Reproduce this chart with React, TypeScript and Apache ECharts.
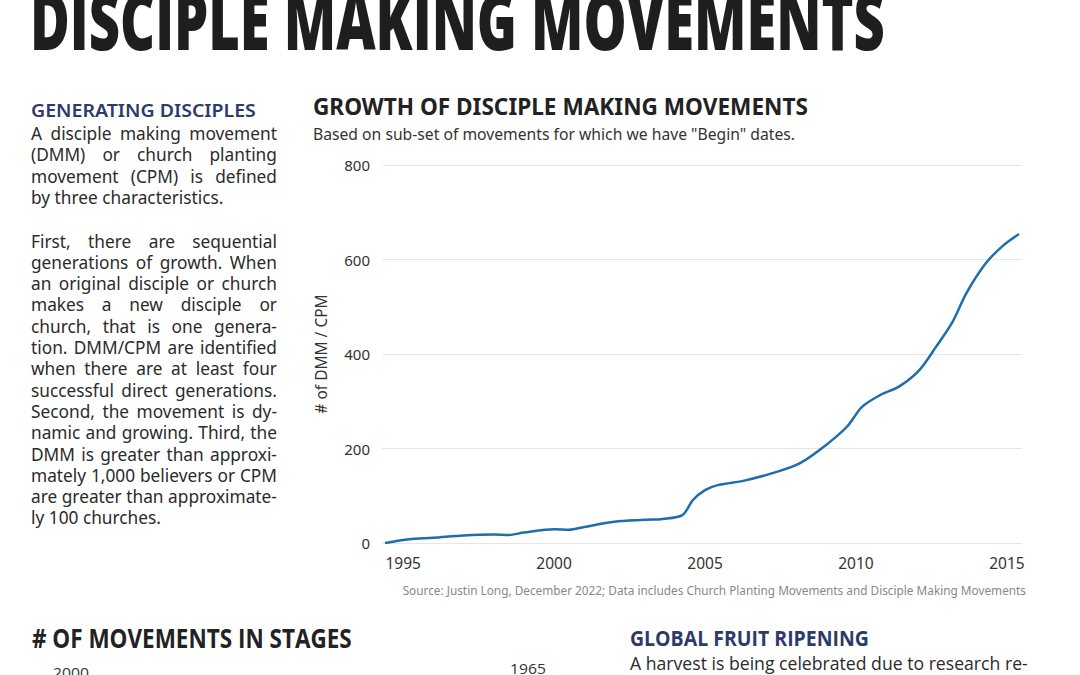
import React, { useEffect, useRef } from "react";
import * as echarts from "echarts";

const years = [1994.4, 1995.2, 1996, 1997, 1998, 1998.5, 1999, 2000, 2000.5, 2001, 2002, 2003, 2003.6, 2004.25, 2004.6, 2005.0, 2005.45, 2006.3, 2007.4, 2008.15, 2009.0, 2009.7, 2010.2, 2010.8, 2011.45, 2012.1, 2012.65, 2013.2, 2013.65, 2014.3, 2014.9, 2015.4];
const values = [0, 8, 11, 16, 18, 17, 22, 29, 28, 34, 45, 49, 51, 59, 91, 112, 123, 132, 151, 169, 207, 246, 288, 313, 332, 366, 415, 468, 528, 592, 631, 654];
const xTicks = [1995, 2000, 2005, 2010, 2015];

const para1 = ["A disciple making movement", "(DMM) or church planting", "movement (CPM) is defined", "by three characteristics."];
const para2 = [
  "First, there are sequential",
  "generations of growth. When",
  "an original disciple or church",
  "makes a new disciple or",
  "church, that is one genera-",
  "tion. DMM/CPM are identified",
  "when there are at least four",
  "successful direct generations.",
  "Second, the movement is dy-",
  "namic and growing. Third, the",
  "DMM is greater than approxi-",
  "mately 1,000 believers or CPM",
  "are greater than approximate-",
  "ly 100 churches.",
];

const BODY_FONT = '17.5px "Noto Sans"';
const TEXT_COLOR = "#2b2b2b";

function measure(text: string, font: string) {
  const ctx = document.createElement("canvas").getContext("2d")!;
  ctx.font = font;
  return ctx.measureText(text).width;
}

function fitted(text: string, x: number, y: number, font: string, width: number, fill: string, extra: any = {}) {
  const s = width / measure(text, font);
  return { type: "text", x, y, scaleX: s, style: { text, font, fill, textVerticalAlign: "middle", ...extra } };
}

function justify(allLines: string[][], x0: number, width: number, font: string) {
  const flat = allLines.flat();
  const maxNat = Math.max(...flat.map((l) => measure(l, font)));
  const s = Math.min(1, width / maxNat);
  return (lines: string[], yStart: number, lh: number) => {
    const els: any[] = [];
    lines.forEach((line, i) => {
      const y = yStart + i * lh;
      const last = i === lines.length - 1;
      const words = line.split(" ");
      if (last || words.length < 2) {
        els.push({ type: "text", x: x0, y, scaleX: s, style: { text: line, font, fill: TEXT_COLOR, textVerticalAlign: "middle" } });
        return;
      }
      const ws = words.map((w) => measure(w, font) * s);
      const total = ws.reduce((a, b) => a + b, 0);
      const gap = (width - total) / (words.length - 1);
      let cx = x0;
      words.forEach((w, j) => {
        els.push({ type: "text", x: cx, y, scaleX: s, style: { text: w, font, fill: TEXT_COLOR, textVerticalAlign: "middle" } });
        cx += ws[j] + gap;
      });
    });
    return els;
  };
}

export default function App() {
  const ref = useRef<HTMLDivElement>(null);
  useEffect(() => {
    document.body.style.margin = "0";
    const chart = echarts.init(ref.current!, null, { renderer: "svg" });
    const jf = justify([para1, para2], 31, 246, BODY_FONT);
    const graphics: any[] = [
      fitted("DISCIPLE MAKING MOVEMENTS", 30, 19, '800 80px "Open Sans"', 855, "#1e1e1e"),
      fitted("GENERATING DISCIPLES", 31, 110, '600 18.5px "Noto Sans"', 225, "#2d3a6b"),
      ...jf(para1, 133, 21.3),
      ...jf(para2, 240.5, 21.3),
      fitted("GROWTH OF DISCIPLE MAKING MOVEMENTS", 313, 107, 'bold 22.5px "Noto Sans"', 495, "#222"),
      fitted('Based on sub-set of movements for which we have "Begin" dates.', 313, 134, '15.5px "Noto Sans"', 482, "#333"),
      { type: "text", x: 1026, y: 590, style: { text: "Source: Justin Long, December 2022; Data includes Church Planting Movements and Disciple Making Movements", font: '11.8px "Noto Sans"', fill: "#888", textAlign: "right", textVerticalAlign: "middle" } },
      fitted("# OF MOVEMENTS IN STAGES", 32, 637, 'bold 27px "Open Sans"', 320, "#222"),
      fitted("2000", 53, 673, '15px "Open Sans"', 36, "#333"),
      fitted("1965", 510, 669, '15px "Open Sans"', 36, "#333"),
      fitted("GLOBAL FRUIT RIPENING", 630, 638, 'bold 21px "Open Sans"', 239, "#2d3a6b"),
      fitted("A harvest is being celebrated due to research re-", 630, 663, '18.5px "Open Sans"', 398, TEXT_COLOR),
    ];
    chart.setOption({
      animation: false,
      graphic: graphics,
      grid: { left: 382, right: 58, top: 165, bottom: 132, containLabel: false },
      xAxis: {
        type: "value",
        min: 1994.3,
        max: 2015.5,
        splitLine: { show: false },
        axisLine: { show: false },
        axisTick: { show: false },
        axisLabel: { customValues: xTicks, color: "#333", fontSize: 15.5, fontFamily: "Noto Sans", margin: 12, formatter: (v: number) => String(v) },
      },
      yAxis: {
        type: "value",
        min: 0,
        max: 800,
        interval: 200,
        name: "# of DMM / CPM",
        nameLocation: "middle",
        nameGap: 53,
        nameTextStyle: { color: "#333", fontSize: 15.5, fontFamily: "Noto Sans" },
        axisLine: { show: false },
        axisTick: { show: false },
        axisLabel: { color: "#333", fontSize: 15, fontFamily: "Noto Sans", margin: 12 },
        splitLine: { lineStyle: { color: "#e6e6e6", width: 1 } },
      },
      series: [
        {
          type: "line",
          data: years.map((y, i) => [y, values[i]]),
          smooth: 0.3,
          showSymbol: false,
          lineStyle: { color: "#1f6dab", width: 2.5 },
        },
      ],
    });
    return () => chart.dispose();
  }, []);
  return <div ref={ref} style={{ position: "fixed", left: 0, top: 0, width: 1080, height: 675, background: "#fff" }} />;
}
